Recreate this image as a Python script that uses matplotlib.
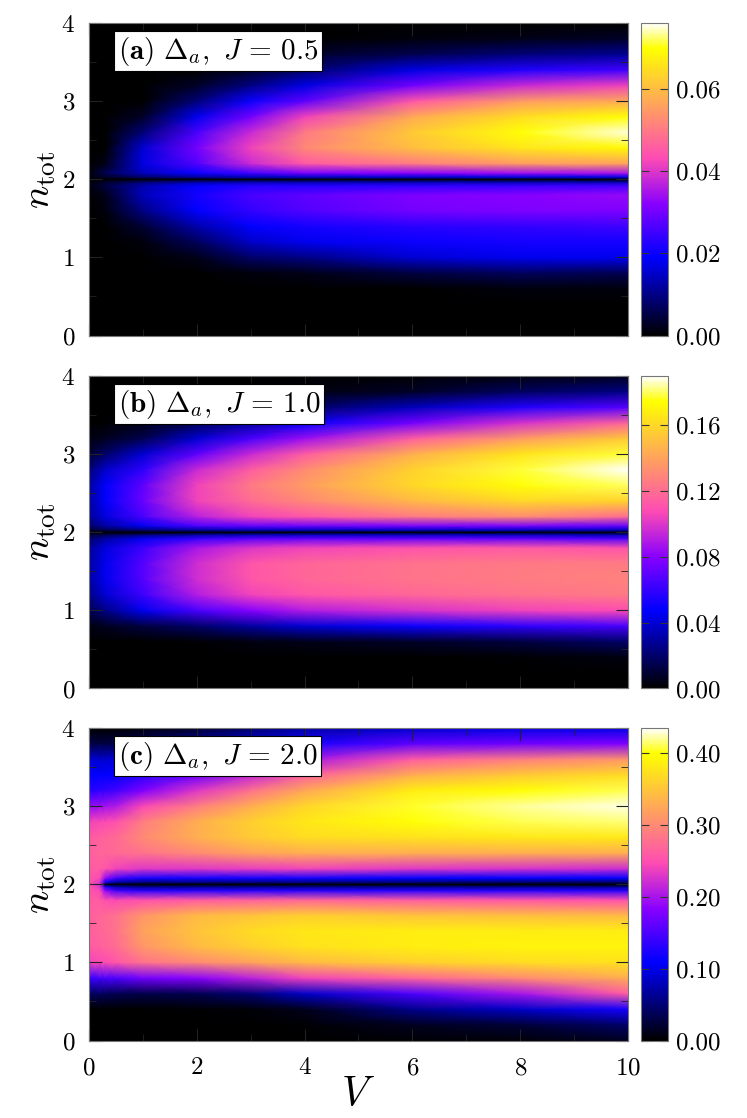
import numpy as np
import matplotlib
matplotlib.use("Agg")
import matplotlib.pyplot as plt
from matplotlib.ticker import MultipleLocator, FormatStrFormatter

plt.rcParams['font.family'] = 'serif'
plt.rcParams['font.serif'] = ['cmr10']
plt.rcParams['mathtext.fontset'] = 'cm'
plt.rcParams['axes.formatter.use_mathtext'] = True

# grid of n_tot values (rows) shared by the three panels
n_tot = [0.0, 0.2, 0.4, 0.6, 0.8, 1.0, 1.2, 1.4, 1.6, 1.8, 1.92, 1.97, 2.0,
         2.03, 2.08, 2.2, 2.4, 2.6, 2.8, 3.0, 3.2, 3.4, 3.6, 3.8, 4.0]

# V columns
V_ab = [0, 0.3, 1, 2, 3, 4, 6, 8, 10]
V_c = [0, 0.2, 0.3, 0.5, 1, 2, 3, 4, 6, 8, 10]

# (a) J = 0.5
delta_a = [
    [0, 0, 0, 0, 0, 0, 0, 0, 0],
    [0, 0, 0, 0, 0, 0, 0, 0, 0],
    [0, 0, 0, 0, 0, 0, 0, 0, 0],
    [0, 0, 0, 0, 0, 0, 0, 0.001, 0.001],
    [0, 0, 0, 0, 0.001, 0.002, 0.005, 0.007, 0.006],
    [0, 0, 0, 0.002, 0.008, 0.010, 0.016, 0.018, 0.018],
    [0, 0, 0.001, 0.007, 0.015, 0.018, 0.020, 0.021, 0.021],
    [0, 0, 0.004, 0.013, 0.019, 0.021, 0.023, 0.024, 0.025],
    [0, 0.001, 0.010, 0.019, 0.024, 0.027, 0.030, 0.031, 0.031],
    [0, 0.002, 0.014, 0.021, 0.026, 0.028, 0.031, 0.032, 0.033],
    [0.001, 0.005, 0.013, 0.019, 0.022, 0.022, 0.023, 0.024, 0.025],
    [0.001, 0.003, 0.008, 0.011, 0.012, 0.012, 0.012, 0.012, 0.012],
    [0, 0, 0, 0, 0, 0, 0, 0, 0],
    [0.001, 0.003, 0.008, 0.012, 0.014, 0.015, 0.016, 0.017, 0.017],
    [0.001, 0.006, 0.014, 0.020, 0.025, 0.030, 0.032, 0.034, 0.035],
    [0, 0.002, 0.017, 0.027, 0.038, 0.045, 0.050, 0.055, 0.056],
    [0, 0, 0.016, 0.030, 0.042, 0.052, 0.060, 0.066, 0.069],
    [0, 0, 0.009, 0.026, 0.038, 0.050, 0.062, 0.070, 0.075],
    [0, 0, 0.003, 0.018, 0.030, 0.042, 0.057, 0.065, 0.070],
    [0, 0, 0, 0.009, 0.020, 0.028, 0.045, 0.055, 0.057],
    [0, 0, 0, 0.003, 0.010, 0.017, 0.030, 0.038, 0.042],
    [0, 0, 0, 0, 0.003, 0.008, 0.017, 0.022, 0.025],
    [0, 0, 0, 0, 0, 0.003, 0.006, 0.009, 0.011],
    [0, 0, 0, 0, 0, 0, 0.001, 0.002, 0.003],
    [0, 0, 0, 0, 0, 0, 0, 0, 0],
]

# (b) J = 1.0
delta_b = [
    [0, 0, 0, 0, 0, 0, 0, 0, 0],
    [0, 0, 0, 0, 0, 0, 0, 0, 0],
    [0, 0, 0, 0, 0, 0, 0, 0.001, 0.003],
    [0, 0, 0, 0.001, 0.003, 0.005, 0.008, 0.012, 0.020],
    [0.003, 0.006, 0.012, 0.020, 0.030, 0.040, 0.050, 0.058, 0.065],
    [0.015, 0.025, 0.045, 0.065, 0.080, 0.090, 0.098, 0.105, 0.108],
    [0.025, 0.040, 0.062, 0.090, 0.105, 0.112, 0.118, 0.122, 0.125],
    [0.030, 0.045, 0.068, 0.097, 0.112, 0.118, 0.123, 0.126, 0.128],
    [0.030, 0.045, 0.068, 0.097, 0.112, 0.118, 0.122, 0.125, 0.126],
    [0.028, 0.042, 0.062, 0.088, 0.100, 0.105, 0.110, 0.113, 0.110],
    [0.020, 0.030, 0.045, 0.060, 0.068, 0.070, 0.070, 0.070, 0.065],
    [0.010, 0.015, 0.022, 0.030, 0.034, 0.035, 0.035, 0.035, 0.032],
    [0, 0, 0, 0, 0, 0, 0, 0, 0],
    [0.010, 0.015, 0.022, 0.030, 0.035, 0.036, 0.037, 0.037, 0.035],
    [0.020, 0.030, 0.045, 0.065, 0.070, 0.072, 0.075, 0.075, 0.070],
    [0.028, 0.042, 0.065, 0.092, 0.105, 0.112, 0.125, 0.132, 0.120],
    [0.030, 0.047, 0.072, 0.105, 0.120, 0.130, 0.148, 0.160, 0.158],
    [0.030, 0.047, 0.070, 0.105, 0.125, 0.138, 0.160, 0.175, 0.180],
    [0.022, 0.038, 0.058, 0.095, 0.115, 0.132, 0.158, 0.178, 0.190],
    [0.010, 0.020, 0.040, 0.070, 0.095, 0.115, 0.145, 0.165, 0.178],
    [0.003, 0.006, 0.015, 0.040, 0.065, 0.085, 0.115, 0.138, 0.155],
    [0, 0.001, 0.004, 0.015, 0.030, 0.048, 0.075, 0.098, 0.117],
    [0, 0, 0, 0.003, 0.008, 0.018, 0.035, 0.055, 0.068],
    [0, 0, 0, 0, 0.001, 0.003, 0.008, 0.018, 0.025],
    [0, 0, 0, 0, 0, 0, 0.001, 0.003, 0.006],
]

# (c) J = 2.0
delta_c = [
    [0, 0, 0, 0, 0, 0, 0, 0, 0.002, 0.005, 0.015],
    [0, 0, 0, 0, 0, 0, 0, 0.002, 0.015, 0.025, 0.045],
    [0, 0, 0, 0, 0, 0.002, 0.005, 0.012, 0.060, 0.085, 0.120],
    [0.040, 0.040, 0.038, 0.035, 0.032, 0.035, 0.050, 0.085, 0.150, 0.200, 0.260],
    [0.140, 0.145, 0.148, 0.150, 0.170, 0.185, 0.210, 0.240, 0.270, 0.300, 0.330],
    [0.240, 0.245, 0.248, 0.255, 0.280, 0.300, 0.320, 0.340, 0.360, 0.370, 0.375],
    [0.260, 0.265, 0.268, 0.275, 0.310, 0.340, 0.360, 0.375, 0.385, 0.390, 0.390],
    [0.265, 0.270, 0.272, 0.280, 0.320, 0.350, 0.370, 0.380, 0.385, 0.385, 0.385],
    [0.265, 0.270, 0.272, 0.280, 0.310, 0.340, 0.350, 0.360, 0.350, 0.345, 0.340],
    [0.260, 0.260, 0.250, 0.245, 0.250, 0.260, 0.265, 0.270, 0.260, 0.255, 0.250],
    [0.255, 0.245, 0.190, 0.145, 0.130, 0.130, 0.130, 0.130, 0.130, 0.130, 0.130],
    [0.255, 0.230, 0.120, 0.075, 0.060, 0.060, 0.060, 0.060, 0.060, 0.060, 0.060],
    [0.255, 0.220, 0, 0, 0, 0, 0, 0, 0, 0, 0],
    [0.255, 0.230, 0.120, 0.075, 0.060, 0.060, 0.060, 0.060, 0.055, 0.050, 0.050],
    [0.255, 0.245, 0.190, 0.145, 0.120, 0.120, 0.120, 0.120, 0.110, 0.110, 0.110],
    [0.260, 0.260, 0.255, 0.240, 0.230, 0.230, 0.235, 0.240, 0.230, 0.225, 0.220],
    [0.265, 0.270, 0.270, 0.272, 0.280, 0.300, 0.320, 0.330, 0.330, 0.330, 0.330],
    [0.260, 0.265, 0.268, 0.272, 0.300, 0.330, 0.355, 0.370, 0.375, 0.380, 0.380],
    [0.240, 0.245, 0.248, 0.252, 0.290, 0.330, 0.360, 0.380, 0.400, 0.410, 0.415],
    [0.190, 0.195, 0.198, 0.205, 0.245, 0.290, 0.330, 0.365, 0.405, 0.420, 0.430],
    [0.130, 0.135, 0.138, 0.145, 0.180, 0.230, 0.280, 0.325, 0.385, 0.400, 0.410],
    [0.110, 0.110, 0.110, 0.112, 0.130, 0.165, 0.215, 0.265, 0.330, 0.355, 0.370],
    [0.090, 0.090, 0.090, 0.092, 0.100, 0.120, 0.150, 0.200, 0.260, 0.290, 0.310],
    [0.030, 0.030, 0.030, 0.032, 0.045, 0.070, 0.095, 0.120, 0.160, 0.170, 0.180],
    [0, 0, 0, 0, 0.005, 0.020, 0.045, 0.070, 0.090, 0.100, 0.100],
]

panels = [
    (V_ab, delta_a, 0.076, [0, 0.02, 0.04, 0.06], r'$(\mathbf{a})\ \Delta_a,\ J\,=\,0.5$'),
    (V_ab, delta_b, 0.19, [0, 0.04, 0.08, 0.12, 0.16], r'$(\mathbf{b})\ \Delta_a,\ J\,=\,1.0$'),
    (V_c, delta_c, 0.435, [0, 0.1, 0.2, 0.3, 0.4], r'$(\mathbf{c})\ \Delta_a,\ J\,=\,2.0$'),
]

fig = plt.figure(figsize=(7.47, 11.18), dpi=100)
tops = [0.9794, 0.6637, 0.3488]
h = 0.2795
left, width = 0.1191, 0.7216
cb_left, cb_w = 0.8581, 0.0361

for i, (V, Z, vmax, cticks, label) in enumerate(panels):
    bottom = tops[i] - h
    ax = fig.add_axes([left, bottom, width, h])
    cax = fig.add_axes([cb_left, bottom, cb_w, h])
    mesh = ax.pcolormesh(V, n_tot, np.array(Z), shading='gouraud',
                         cmap='gnuplot2', vmin=0, vmax=vmax, rasterized=True)
    ax.set_xlim(0, 10)
    ax.set_ylim(0, 4)
    ax.xaxis.set_major_locator(MultipleLocator(2))
    ax.xaxis.set_minor_locator(MultipleLocator(1))
    ax.yaxis.set_major_locator(MultipleLocator(1))
    ax.yaxis.set_minor_locator(MultipleLocator(0.5))
    ax.tick_params(which='both', direction='in', top=True, right=True,
                   labelsize=18, color='#222222')
    ax.tick_params(which='major', length=9)
    ax.tick_params(which='minor', length=5)
    ax.tick_params(axis='x', pad=12)
    ax.tick_params(axis='y', pad=10)
    if i < 2:
        ax.tick_params(axis='x', labelbottom=False)
    for s in ax.spines.values():
        s.set_color('#777777')
        s.set_linewidth(0.8)
    ax.set_ylabel(r'$n_{\rm tot}$', fontsize=28, labelpad=2)
    ax.text(0.053, 0.962, label, transform=ax.transAxes, fontsize=21,
            va='top', ha='left',
            bbox=dict(boxstyle='square,pad=0.12', fc='white', ec='black', lw=0.8))

    cb = fig.colorbar(mesh, cax=cax)
    cb.set_ticks(cticks)
    cb.ax.yaxis.set_major_formatter(FormatStrFormatter('%.2f'))
    cb.ax.tick_params(direction='in', left=True, right=True, length=6,
                      labelsize=18, color='#333333', pad=6)
    cb.outline.set_edgecolor('#777777')
    cb.outline.set_linewidth(0.8)

    if i == 2:
        ax.set_xlabel(r'$V$', fontsize=30, labelpad=-2)

fig.savefig('out.png', dpi=100)
